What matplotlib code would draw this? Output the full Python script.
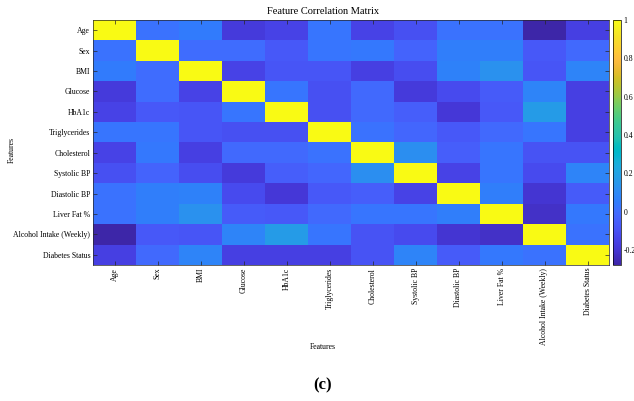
import numpy as np
import matplotlib
matplotlib.use("Agg")
import matplotlib.pyplot as plt
from matplotlib.colors import LinearSegmentedColormap

features = ["Age", "Sex", "BMI", "Glucose", "HbA1c", "Triglycerides", "Cholesterol",
            "Systolic BP", "Diastolic BP", "Liver Fat %", "Alcohol Intake (Weekly)",
            "Diabetes Status"]

# upper-triangle correlations, row by row
r_age = [0.02, 0.05, -0.18, -0.15, 0.03, -0.15, -0.10, 0.02, 0.02, -0.278, -0.16]
r_sex = [0.00, 0.00, -0.07, 0.03, 0.04, -0.03, 0.06, 0.06, -0.07, -0.01]
r_bmi = [-0.15, -0.08, -0.08, -0.16, -0.11, 0.07, 0.13, -0.08, 0.08]
r_glucose = [0.03, -0.10, -0.01, -0.18, -0.12, -0.06, 0.08, -0.16]
r_hba1c = [-0.10, -0.01, -0.05, -0.19, -0.07, 0.17, -0.16]
r_trig = [0.02, -0.02, -0.07, -0.01, 0.03, -0.16]
r_chol = [0.12, -0.05, 0.03, -0.09, -0.09]
r_sys = [-0.15, 0.03, -0.12, 0.08]
r_dia = [0.06, -0.20, -0.06]
r_liver = [-0.22, 0.04]
r_alcohol = [0.02]
upper_rows = [r_age, r_sex, r_bmi, r_glucose, r_hba1c, r_trig, r_chol, r_sys,
              r_dia, r_liver, r_alcohol]

cbar_ticks = [-0.2, 0, 0.2, 0.4, 0.6, 0.8, 1]
cbar_labels = ["-0.2", "0", "0.2", "0.4", "0.6", "0.8", "1"]

n = len(features)
corr = np.eye(n)
for i, row in enumerate(upper_rows):
    for k, v in enumerate(row):
        j = i + 1 + k
        corr[i, j] = v
        corr[j, i] = v

parula_pts = [
    (0.2422, 0.1504, 0.6603), (0.2504, 0.1650, 0.7076), (0.2578, 0.1818, 0.7511),
    (0.2647, 0.1978, 0.7952), (0.2706, 0.2147, 0.8364), (0.2751, 0.2342, 0.8710),
    (0.2783, 0.2559, 0.8991), (0.2803, 0.2782, 0.9221), (0.2813, 0.3006, 0.9414),
    (0.2810, 0.3228, 0.9579), (0.2795, 0.3447, 0.9717), (0.2760, 0.3667, 0.9829),
    (0.2699, 0.3892, 0.9906), (0.2602, 0.4123, 0.9952), (0.2440, 0.4358, 0.9988),
    (0.2206, 0.4603, 0.9973), (0.1963, 0.4847, 0.9892), (0.1834, 0.5074, 0.9798),
    (0.1786, 0.5289, 0.9682), (0.1764, 0.5499, 0.9520), (0.1687, 0.5703, 0.9359),
    (0.1540, 0.5902, 0.9218), (0.1460, 0.6091, 0.9079), (0.1380, 0.6276, 0.8973),
    (0.1248, 0.6459, 0.8883), (0.1113, 0.6635, 0.8763), (0.0952, 0.6798, 0.8598),
    (0.0689, 0.6948, 0.8394), (0.0297, 0.7082, 0.8163), (0.0036, 0.7203, 0.7917),
    (0.0067, 0.7312, 0.7660), (0.0433, 0.7411, 0.7394), (0.0964, 0.7500, 0.7120),
    (0.1408, 0.7584, 0.6842), (0.1717, 0.7670, 0.6554), (0.1938, 0.7758, 0.6251),
    (0.2161, 0.7843, 0.5923), (0.2470, 0.7918, 0.5567), (0.2906, 0.7973, 0.5188),
    (0.3406, 0.8008, 0.4789), (0.3909, 0.8029, 0.4354), (0.4456, 0.8024, 0.3909),
    (0.5044, 0.7993, 0.3480), (0.5616, 0.7942, 0.3045), (0.6174, 0.7876, 0.2612),
    (0.6720, 0.7793, 0.2227), (0.7242, 0.7698, 0.1910), (0.7738, 0.7598, 0.1646),
    (0.8203, 0.7498, 0.1535), (0.8634, 0.7406, 0.1596), (0.9035, 0.7330, 0.1774),
    (0.9393, 0.7288, 0.2100), (0.9728, 0.7298, 0.2394), (0.9956, 0.7434, 0.2371),
    (0.9970, 0.7659, 0.2199), (0.9952, 0.7893, 0.2028), (0.9892, 0.8136, 0.1885),
    (0.9786, 0.8386, 0.1766), (0.9676, 0.8639, 0.1643), (0.9610, 0.8890, 0.1537),
    (0.9597, 0.9135, 0.1423), (0.9628, 0.9373, 0.1265), (0.9691, 0.9606, 0.1064),
    (0.9769, 0.9839, 0.0805)]
parula = LinearSegmentedColormap.from_list("parula", parula_pts, N=256)

plt.rcParams['font.family'] = ['Liberation Serif', 'DejaVu Serif']

W, H = 634, 401
fig = plt.figure(figsize=(W / 100, H / 100), dpi=100)
fig.patch.set_facecolor("white")

ax_l, ax_r, ax_t, ax_b = 93, 609, 20, 265
ax = fig.add_axes([ax_l / W, 1 - ax_b / H, (ax_r - ax_l) / W, (ax_b - ax_t) / H])
im = ax.imshow(corr, cmap=parula, aspect="auto", interpolation="nearest",
               vmin=corr.min(), vmax=1.0)

ax.set_xticks(np.arange(n))
ax.set_yticks(np.arange(n))
ax.set_xticklabels(features, rotation=90, fontsize=5.6)
ax.set_yticklabels(features, fontsize=5.6)
ax.tick_params(axis="both", which="both", direction="in", length=3, width=0.5,
               color="#262626", top=True, right=True, pad=2)
for s in ax.spines.values():
    s.set_linewidth(0.5)
    s.set_color("#262626")

cax = fig.add_axes([613 / W, 1 - ax_b / H, 8 / W, (ax_b - ax_t) / H])
cb = fig.colorbar(im, cax=cax)
cb.set_ticks(cbar_ticks)
cb.set_ticklabels(cbar_labels)
cb.ax.tick_params(labelsize=5.6, length=0, pad=2)
cb.outline.set_linewidth(0.5)

fig.text(323 / W, 1 - 11 / H, "Feature Correlation Matrix", ha="center", va="center",
         fontsize=7.5)
fig.text(323 / W, 1 - 347 / H, "Features", ha="center", va="center", fontsize=5.6)
fig.text(12 / W, 1 - 150 / H, "Features", ha="center", va="center", fontsize=5.6,
         rotation=90)
fig.text(323 / W, 1 - 385 / H, "(c)", ha="center", va="center", fontsize=12,
         fontweight="bold")

fig.savefig("out.png", dpi=100)
